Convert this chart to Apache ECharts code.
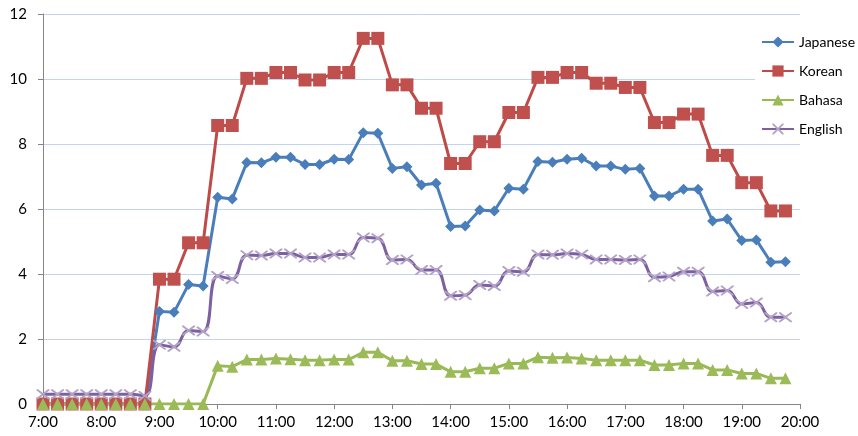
<!DOCTYPE html>
<html>
<head>
<meta charset="utf-8">
<title>Language usage by time</title>
<script src="https://cdn.jsdelivr.net/npm/echarts@6/dist/echarts.min.js"></script>
<style>
  html, body { margin: 0; padding: 0; background: #fff; }
  #chart { width: 858px; height: 436px; }
</style>
</head>
<body>
<div id="chart"></div>
<script>
// 15-minute slots, 7:00 .. 20:00
const times = [
  "7:00", "7:15", "7:30", "7:45", "8:00", "8:15", "8:30", "8:45",
  "9:00", "9:15", "9:30", "9:45", "10:00", "10:15", "10:30", "10:45",
  "11:00", "11:15", "11:30", "11:45", "12:00", "12:15", "12:30", "12:45",
  "13:00", "13:15", "13:30", "13:45", "14:00", "14:15", "14:30", "14:45",
  "15:00", "15:15", "15:30", "15:45", "16:00", "16:15", "16:30", "16:45",
  "17:00", "17:15", "17:30", "17:45", "18:00", "18:15", "18:30", "18:45",
  "19:00", "19:15", "19:30", "19:45", "20:00"
]

const japanese = [
  0, 0, 0, 0, 0, 0, 0, 0,
  2.85, 2.82, 3.68, 3.63, 6.36, 6.31, 7.43, 7.42,
  7.59, 7.59, 7.37, 7.37, 7.53, 7.52, 8.35, 8.33,
  7.25, 7.3, 6.74, 6.79, 5.46, 5.48, 5.97, 5.94,
  6.64, 6.61, 7.46, 7.44, 7.53, 7.56, 7.32, 7.32,
  7.22, 7.25, 6.4, 6.4, 6.61, 6.61, 5.63, 5.69,
  5.03, 5.05, 4.36, 4.38
]
const korean = [
  0, 0, 0, 0, 0, 0, 0, 0,
  3.84, 3.84, 4.96, 4.96, 8.57, 8.57, 10.02, 10.02,
  10.2, 10.2, 9.97, 9.97, 10.2, 10.2, 11.25, 11.25,
  9.82, 9.82, 9.1, 9.1, 7.4, 7.4, 8.07, 8.07,
  8.97, 8.97, 10.05, 10.05, 10.2, 10.2, 9.87, 9.87,
  9.74, 9.74, 8.66, 8.66, 8.92, 8.92, 7.65, 7.65,
  6.81, 6.81, 5.94, 5.94
]
const bahasa = [
  0, 0, 0, 0, 0, 0, 0, 0,
  0, 0, 0, 0, 1.18, 1.15, 1.37, 1.37,
  1.4, 1.38, 1.35, 1.35, 1.37, 1.37, 1.59, 1.59,
  1.33, 1.33, 1.23, 1.23, 0.99, 0.99, 1.1, 1.1,
  1.25, 1.25, 1.44, 1.42, 1.43, 1.4, 1.35, 1.35,
  1.35, 1.35, 1.2, 1.2, 1.25, 1.25, 1.05, 1.05,
  0.94, 0.94, 0.79, 0.79
]
const english = [
  0.3, 0.3, 0.3, 0.3, 0.3, 0.3, 0.3, 0.25,
  1.82, 1.76, 2.26, 2.23, 3.94, 3.85, 4.58, 4.57,
  4.63, 4.63, 4.51, 4.51, 4.6, 4.6, 5.12, 5.1,
  4.43, 4.45, 4.12, 4.12, 3.33, 3.35, 3.66, 3.63,
  4.09, 4.07, 4.6, 4.59, 4.63, 4.6, 4.45, 4.45,
  4.43, 4.45, 3.9, 3.92, 4.07, 4.07, 3.46, 3.49,
  3.08, 3.12, 2.67, 2.67
]

// thin "x" marker (Excel style)
const crossSymbol = "path://M0,0L1.2,0L5,3.8L8.8,0L10,0L10,1.2L6.2,5L10,8.8L10,10L8.8,10L5,6.2L1.2,10L0,10L0,8.8L3.8,5L0,1.2Z"

const chart = echarts.init(document.getElementById("chart"))
const font = "Lato"

const option = {
  backgroundColor: "#fff",
  animation: false,
  grid: {
    left: 43,
    right: 58,
    top: 14,
    bottom: 32,
  },
  legend: {
    orient: "vertical",
    left: 755,
    top: 29,
    padding: [6, 4, 2, 6],
    backgroundColor: "#fff",
    itemWidth: 32,
    itemHeight: 14,
    itemGap: 15,
    textStyle: {
      fontFamily: font,
      fontSize: 14,
      lineHeight: 14,
      color: "#000",
    },
    data: ["Japanese", "Korean", "Bahasa", "English"],
  },
  xAxis: {
    type: "category",
    boundaryGap: false,
    data: times,
    axisLine: { lineStyle: { color: "#868686", width: 1 } },
    axisTick: { interval: 3, length: 5, lineStyle: { color: "#868686" } },
    axisLabel: {
      interval: 3,
      margin: 11,
      fontFamily: font,
      fontSize: 15,
      color: "#000",
    },
    splitLine: { show: false },
  },
  yAxis: {
    type: "value",
    min: 0,
    max: 12,
    interval: 2,
    axisLine: { show: true, lineStyle: { color: "#868686", width: 1 } },
    axisTick: { show: true, length: 5, lineStyle: { color: "#868686" } },
    axisLabel: {
      margin: 16,
      fontFamily: font,
      fontSize: 15,
      color: "#000",
    },
    splitLine: { lineStyle: { color: "#c3d4f0", width: 1 } },
  },
  series: [
    {
      name: "Japanese",
      type: "line",
      data: japanese,
      showAllSymbol: true,
      symbol: "diamond",
      symbolSize: 11,
      color: "#4a7ebb",
      lineStyle: { width: 3, color: "#4a7ebb" },
      itemStyle: { color: "#4a7ebb" },
    },
    {
      name: "Korean",
      type: "line",
      data: korean,
      showAllSymbol: true,
      symbol: "rect",
      symbolSize: 13,
      color: "#be4b48",
      lineStyle: { width: 3, color: "#be4b48" },
      itemStyle: { color: "#c0504d" },
    },
    {
      name: "Bahasa",
      type: "line",
      data: bahasa,
      showAllSymbol: true,
      symbol: "triangle",
      symbolSize: 12,
      color: "#98b954",
      lineStyle: { width: 3, color: "#98b954" },
      itemStyle: { color: "#9bbb59" },
    },
    {
      name: "English",
      type: "line",
      data: english,
      showAllSymbol: true,
      smooth: 0.45,
      symbol: crossSymbol,
      symbolSize: [13, 10],
      color: "#7d60a0",
      lineStyle: { width: 3, color: "#7d60a0" },
      itemStyle: { color: "#b3a2c7" },
    },
  ],
}

chart.setOption(option)
</script>
</body>
</html>
